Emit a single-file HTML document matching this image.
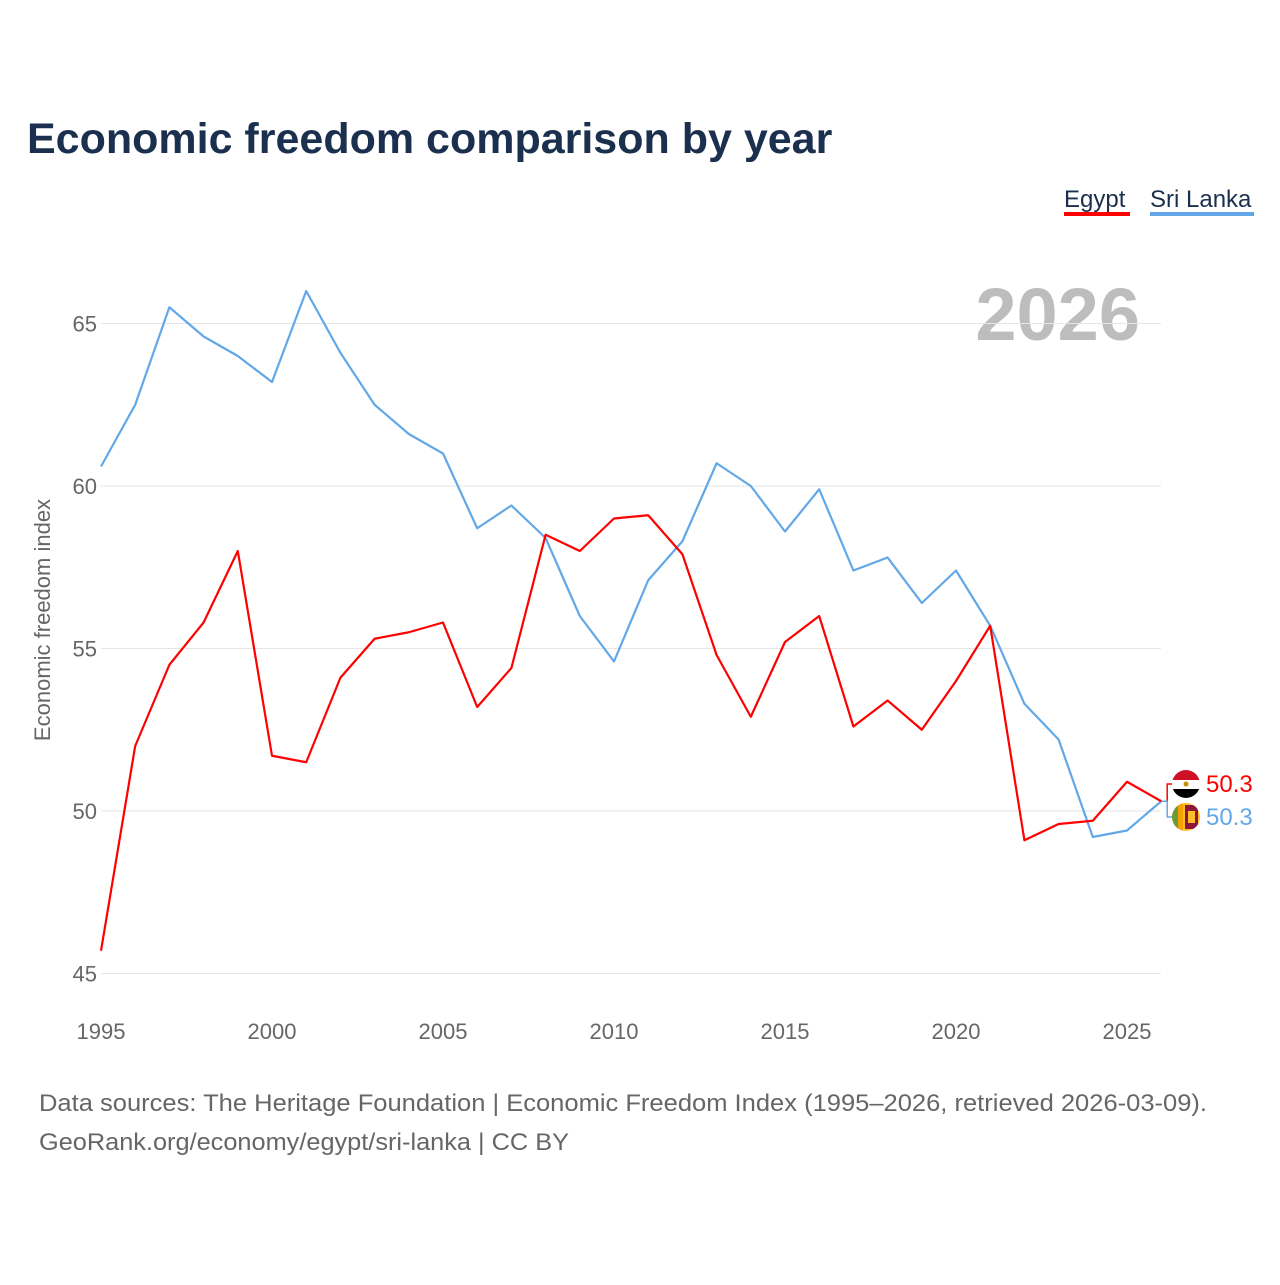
<!DOCTYPE html>
<html><head><meta charset="utf-8"><style>
body{margin:0;background:#fff;font-family:"Liberation Sans",sans-serif}
svg text{font-family:"Liberation Sans",sans-serif}
</style></head><body>
<svg width="1280" height="1280" xmlns="http://www.w3.org/2000/svg" id="chart">
<defs><clipPath id="c1"><circle cx="1186" cy="784" r="14"/></clipPath><clipPath id="c2"><circle cx="1186" cy="817" r="14"/></clipPath></defs>
<text x="27" y="153" font-size="43" font-weight="bold" fill="#1b2f4e">Economic freedom comparison by year</text>
<g><text x="1064" y="207" font-size="24" fill="#1b2f4e">Egypt</text><rect x="1064" y="212" width="66" height="4" fill="#ff0000"/></g>
<g><text x="1150" y="207" font-size="24" fill="#1b2f4e">Sri Lanka</text><rect x="1150" y="212" width="104" height="4" fill="#62a8e8"/></g>
<text x="1140" y="340" font-size="74" font-weight="bold" fill="#bdbdbd" text-anchor="end">2026</text>
<text transform="translate(50,620) rotate(-90)" font-size="22" fill="#666" text-anchor="middle">Economic freedom index</text>
<g id="grid"></g><g id="xt"></g><g id="lines"></g><g id="ends"></g>
<text x="39" y="1111" font-size="24" fill="#666" textLength="1168" lengthAdjust="spacingAndGlyphs">Data sources: The Heritage Foundation | Economic Freedom Index (1995–2026, retrieved 2026-03-09).</text>
<text x="39" y="1150" font-size="24" fill="#666" textLength="530" lengthAdjust="spacingAndGlyphs">GeoRank.org/economy/egypt/sri-lanka | CC BY</text>
</svg>
<script>
const years=[1995,1996,1997,1998,1999,2000,2001,2002,2003,2004,2005,2006,2007,2008,2009,2010,2011,2012,2013,2014,2015,2016,2017,2018,2019,2020,2021,2022,2023,2024,2025,2026];
const egypt=[45.7,52.0,54.5,55.8,58.0,51.7,51.5,54.1,55.3,55.5,55.8,53.2,54.4,58.5,58.0,59.0,59.1,57.9,54.8,52.9,55.2,56.0,52.6,53.4,52.5,54.0,55.7,49.1,49.6,49.7,50.9,50.3];
const sriLanka=[60.6,62.5,65.5,64.6,64.0,63.2,66.0,64.1,62.5,61.6,61.0,58.7,59.4,58.4,56.0,54.6,57.1,58.3,60.7,60.0,58.6,59.9,57.4,57.8,56.4,57.4,55.7,53.3,52.2,49.2,49.4,50.3];
const yTicks=[45,50,55,60,65];
const xTicks=[1995,2000,2005,2010,2015,2020,2025];
const X=y=>101+(y-1995)*34.2, Y=v=>811-(v-50)*32.5;
const NS="http://www.w3.org/2000/svg";
function mk(t,a,p){const e=document.createElementNS(NS,t);for(const k in a)e.setAttribute(k,a[k]);p.appendChild(e);return e;}
const g=document.getElementById('grid');
yTicks.forEach(v=>{
 const l=mk('line',{x1:101,x2:1161,y1:Y(v),y2:Y(v),stroke:'#e6e6e6','stroke-width':1},g);
 
 
 const t=mk('text',{x:97,y:Y(v)+8,'font-size':22,fill:'#666','text-anchor':'end'},g);t.textContent=v;
 
 
});
const xt=document.getElementById('xt');
xTicks.forEach(v=>{
 const t=mk('text',{x:X(v),y:1039,'font-size':22,fill:'#666','text-anchor':'middle'},xt);t.textContent=v;
 
 
});
const L=document.getElementById('lines');
[[sriLanka,'#62a8e8','sri-lanka-line'],[egypt,'#ff0000','egypt-line']].forEach(([d,c,n])=>{
 const p=mk('polyline',{points:d.map((v,i)=>X(years[i])+','+Y(v)).join(' '),fill:'none',stroke:c,'stroke-width':2.2,'stroke-linejoin':'round'},L);
 
 
});
const E=document.getElementById('ends');
const ex=X(2026);
[[egypt,'#ff0000',784,'egypt'],[sriLanka,'#62a8e8',817,'sri-lanka']].forEach(([d,c,ly,n])=>{
 const v=d[d.length-1];
 mk('polyline',{points:`${ex},${Y(v)} ${ex+6},${Y(v)} ${ex+6},${ly} ${ex+12},${ly}`,fill:'none',stroke:c,'stroke-width':1.5},E);
 const f=mk('g',{},E);
 
 
 if(n==='egypt'){
  f.setAttribute('clip-path','url(#c1)');
  mk('rect',{x:1172,y:ly-14,width:28,height:10,fill:'#ce1126'},f);
  mk('rect',{x:1172,y:ly-4,width:28,height:9,fill:'#fff'},f);
  mk('rect',{x:1172,y:ly+5,width:28,height:10,fill:'#000'},f);
  mk('circle',{cx:1186,cy:ly,r:2.5,fill:'#c09300'},f);
 } else {
  f.setAttribute('clip-path','url(#c2)');
  mk('rect',{x:1172,y:ly-14,width:28,height:28,fill:'#ffbe29'},f);
  mk('rect',{x:1172,y:ly-14,width:6,height:28,fill:'#6a9a3a'},f);
  mk('rect',{x:1178,y:ly-14,width:5,height:28,fill:'#f7a100'},f);
  mk('rect',{x:1185,y:ly-12,width:13,height:24,fill:'#8d153a'},f);
  mk('rect',{x:1188,y:ly-6,width:7,height:12,fill:'#ffbe29'},f);
 }
 const t=mk('text',{x:1206,y:ly+8,'font-size':24,fill:c},E);t.textContent=v.toFixed(1);
 
 
});
</script>
</body></html>
